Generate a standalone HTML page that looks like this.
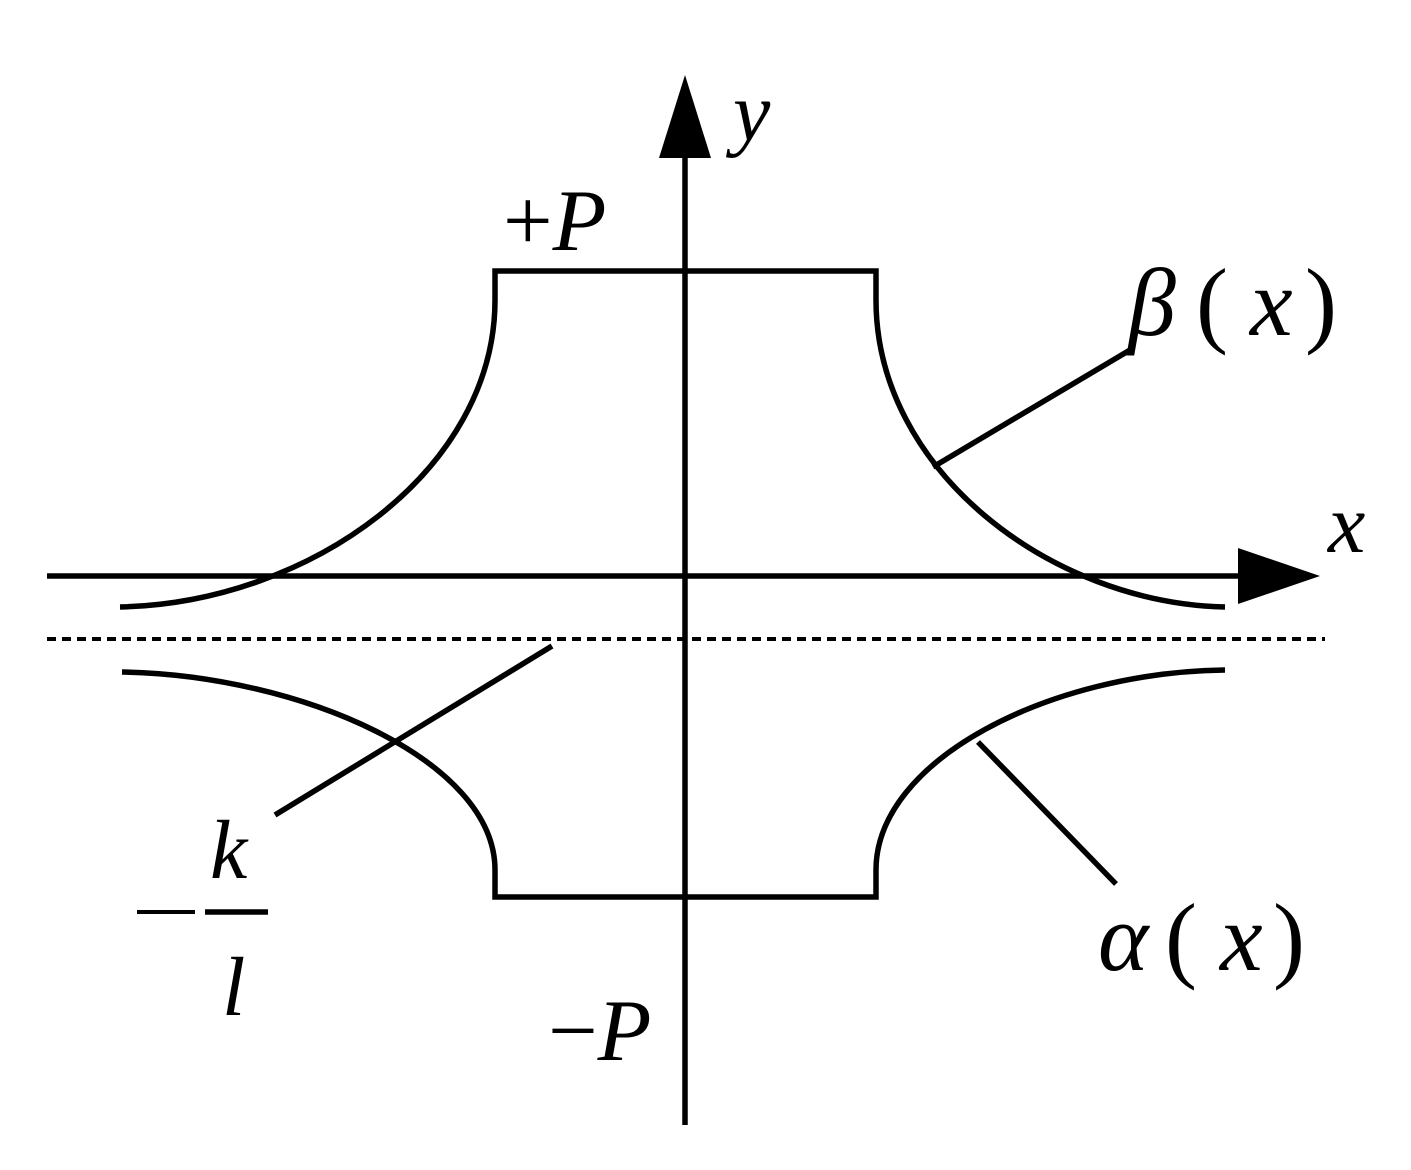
<!DOCTYPE html>
<html><head><meta charset="utf-8"><style>
html,body{margin:0;padding:0;background:#fff;}
svg{display:block;}
text{font-family:"Liberation Serif",serif;fill:#000;}
</style></head><body>
<svg width="1411" height="1170" viewBox="0 0 1411 1170" xmlns="http://www.w3.org/2000/svg">
<g stroke="#000" stroke-width="5.5" fill="none">
<line x1="685" y1="150" x2="685" y2="1125"/>
<line x1="47" y1="576" x2="1245" y2="576"/>
<line x1="47" y1="639" x2="1325" y2="639" stroke-width="4" stroke-dasharray="9,6"/>
<path d="M120,607 C310,603 495,470 495,300 L495,271 L876,271 L876,300 C876,470 1050,603 1225,607"/>
<path d="M122,672 C300,675 495,760 495,870 L495,897 L876,897 L876,870 C876,760 1050,672 1225,670"/>
<line x1="933" y1="467" x2="1130" y2="350"/>
<line x1="978" y1="742" x2="1116" y2="884"/>
<line x1="552" y1="646" x2="275" y2="815"/>
<line x1="205" y1="912" x2="268" y2="912"/>
<line x1="137" y1="912" x2="195" y2="912" stroke-width="4"/>
</g>
<polygon points="685,75 659,158 711,158" fill="#000"/>
<polygon points="1320,576 1238,548 1238,604" fill="#000"/>
<text x="733" y="140" font-size="84" font-style="italic">y</text>
<text x="503" y="250" font-size="88">+<tspan font-style="italic">P</tspan></text>
<text x="1128" y="335" font-size="96" font-style="italic">β</text>
<text x="1196" y="335" font-size="96">(</text>
<text x="1250" y="335" font-size="96" font-style="italic">x</text>
<text x="1305" y="335" font-size="96">)</text>
<text x="1328" y="552" font-size="84" font-style="italic">x</text>
<text x="1098" y="970" font-size="96" font-style="italic">α</text>
<text x="1165" y="970" font-size="96">(</text>
<text x="1220" y="970" font-size="96" font-style="italic">x</text>
<text x="1273" y="970" font-size="96">)</text>
<text x="210" y="878" font-size="84" font-style="italic">k</text>
<text x="222" y="1015" font-size="84" font-style="italic">l</text>
<text x="548" y="1060" font-size="88">−<tspan font-style="italic">P</tspan></text>
</svg>
</body></html>
